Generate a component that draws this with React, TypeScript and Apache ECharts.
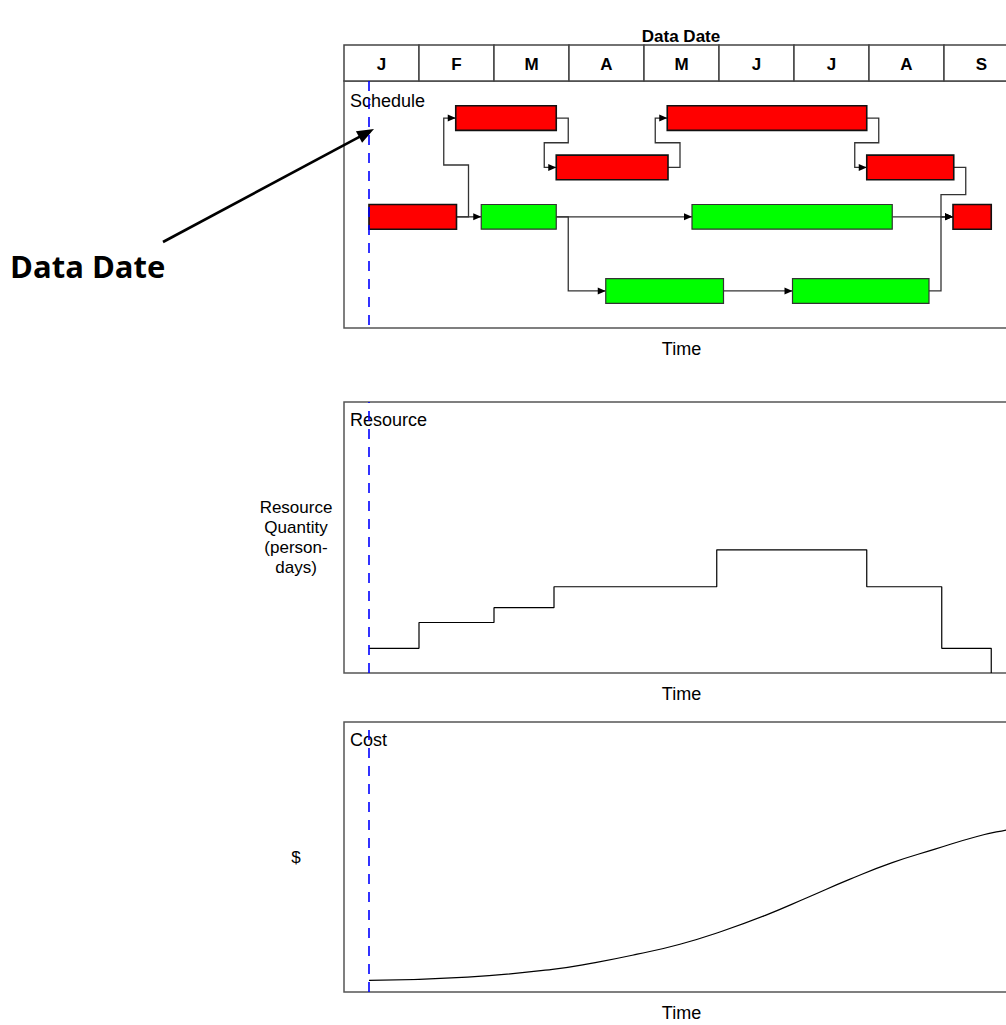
import React, { useEffect, useRef } from "react";
import * as echarts from "echarts";

// ---------- data ----------
const MONTHS = ["J", "F", "M", "A", "M", "J", "J", "A", "S"];
const DATA_DATE = 0.333; // months from start of J

// schedule tasks (time in months, row = lane centre)
const TASK_START = [0.333, 1.83, 1.49, 2.83, 4.31, 6.97, 4.64, 8.12, 3.49, 5.98];
const TASK_END = [1.5, 2.83, 2.83, 4.32, 6.97, 8.13, 7.31, 8.63, 5.06, 7.8];
const TASK_ROW = [5.5, 5.5, 1.5, 3.5, 1.5, 3.5, 5.5, 5.5, 8.5, 8.5];
const TASK_STATUS = [0, 1, 0, 0, 0, 0, 1, 0, 1, 1]; // 0 = red, 1 = green

// dependencies (finish-to-start)
const LINK_FROM = [0, 0, 1, 1, 2, 3, 4, 5, 6, 8, 9];
const LINK_TO = [1, 2, 6, 8, 3, 4, 5, 7, 7, 9, 7];
const LINK_KIND = ["straight", "s", "straight", "lout", "s", "s", "s", "s", "straight", "straight", "lin"];
const LINK_JOG = [0, 3.4, 0, 0, 2.5, 2.5, 2.5, 4.6, 0, 0, 0];

// resource histogram (step)
const RES_T = [0.333, 1.0, 2.0, 2.8, 4.97, 6.97, 7.97, 8.63];
const RES_V = [1, 2.05, 2.65, 3.5, 5, 3.5, 1, 0];

// cumulative cost curve
const COST_T = [0.333, 1.645, 2.78, 3.35, 3.91, 4.48, 5.04, 5.61, 6.18, 6.74, 7.31, 7.88, 8.44, 8.83, 9.0];
const COST_V = [0.43, 0.55, 0.84, 1.09, 1.4, 1.77, 2.25, 2.83, 3.5, 4.17, 4.79, 5.29, 5.76, 6.0, 6.08];

const FONT = "'Liberation Sans', Arial, sans-serif";
const JOG_OFFSET = 0.16;

function linkPoints(i: number): number[][] {
  const a = LINK_FROM[i];
  const b = LINK_TO[i];
  const ax = TASK_END[a];
  const ay = TASK_ROW[a];
  const bx = TASK_START[b];
  const by = TASK_ROW[b];
  const d = JOG_OFFSET;
  switch (LINK_KIND[i]) {
    case "lout":
      return [[ax, ay], [ax + d, ay], [ax + d, by], [bx, by]];
    case "lin":
      return [[ax, ay], [bx - d, ay], [bx - d, by], [bx, by]];
    case "s":
      return [[ax, ay], [ax + d, ay], [ax + d, LINK_JOG[i]], [bx - d, LINK_JOG[i]], [bx - d, by], [bx, by]];
    default:
      return [[ax, ay], [bx, by]];
  }
}

export default function App() {
  const ref = useRef<HTMLDivElement>(null);

  useEffect(() => {
    if (!ref.current) return;
    const chart = echarts.init(ref.current, null, { renderer: "svg" });

    const timeAxis = (gridIndex: number) => ({
      type: "value",
      gridIndex,
      min: 0,
      max: 9,
      axisLine: { show: false },
      axisTick: { show: false },
      axisLabel: { show: false },
      splitLine: { show: false },
      name: "Time",
      nameLocation: "middle",
      nameGap: 12,
      nameTextStyle: { fontSize: 18, color: "#000", fontFamily: FONT, verticalAlign: "top" },
    });

    const blueLine = {
      silent: true,
      symbol: ["none", "none"],
      label: { show: false },
      lineStyle: { color: "#0000ff", type: [10, 8], width: 1.6 },
      data: [{ xAxis: DATA_DATE }],
    };

    // arrow annotation
    const arrowStart = [163, 242];
    const arrowTip = [374, 129];
    const dx = arrowTip[0] - arrowStart[0];
    const dy = arrowTip[1] - arrowStart[1];
    const len = Math.sqrt(dx * dx + dy * dy);
    const ux = dx / len;
    const uy = dy / len;
    const headL = 17;
    const headW = 6.5;
    const bxp = arrowTip[0] - ux * headL;
    const byp = arrowTip[1] - uy * headL;

    const option: any = {
      animation: false,
      backgroundColor: "#fff",
      grid: [
        { left: 344, top: 45, width: 675, height: 36, show: false },
        { left: 344, top: 81, width: 675, height: 247, show: true, borderColor: "#555", borderWidth: 1.5 },
        { left: 344, top: 402, width: 675, height: 271, show: true, borderColor: "#555", borderWidth: 1.5 },
        { left: 344, top: 722, width: 675, height: 270, show: true, borderColor: "#555", borderWidth: 1.5 },
      ],
      xAxis: [
        { type: "value", gridIndex: 0, min: 0, max: 9, show: false },
        timeAxis(1),
        timeAxis(2),
        timeAxis(3),
      ],
      yAxis: [
        { type: "value", gridIndex: 0, min: 0, max: 1, show: false },
        { type: "value", gridIndex: 1, min: 0, max: 10, inverse: true, show: false },
        {
          type: "value",
          gridIndex: 2,
          min: 0,
          max: 11,
          axisLine: { show: false },
          axisTick: { show: false },
          axisLabel: { show: false },
          splitLine: { show: false },
          name: "Resource\nQuantity\n(person-\ndays)",
          nameLocation: "middle",
          nameRotate: 0,
          nameGap: 48,
          nameTextStyle: { fontSize: 17, color: "#000", fontFamily: FONT, align: "center", verticalAlign: "middle", lineHeight: 20 },
        },
        {
          type: "value",
          gridIndex: 3,
          min: 0,
          max: 10,
          axisLine: { show: false },
          axisTick: { show: false },
          axisLabel: { show: false },
          splitLine: { show: false },
          name: "$",
          nameLocation: "middle",
          nameRotate: 0,
          nameGap: 48,
          nameTextStyle: { fontSize: 17, color: "#000", fontFamily: FONT, align: "center", verticalAlign: "middle" },
        },
      ],
      series: [
        {
          type: "custom",
          name: "months",
          xAxisIndex: 0,
          yAxisIndex: 0,
          clip: false,
          data: MONTHS.map((_, i) => [i + 0.5, 0.5]),
          renderItem: (params: any, api: any) => {
            const i = params.dataIndex;
            const p0 = api.coord([i, 1]);
            const p1 = api.coord([i + 1, 0]);
            return {
              type: "group",
              children: [
                {
                  type: "rect",
                  shape: { x: p0[0], y: p0[1], width: p1[0] - p0[0], height: p1[1] - p0[1] },
                  style: { fill: "#fff", stroke: "#444", lineWidth: 1.5 },
                },
                {
                  type: "text",
                  x: (p0[0] + p1[0]) / 2,
                  y: (p0[1] + p1[1]) / 2 + 1,
                  style: {
                    text: MONTHS[i],
                    fill: "#000",
                    fontSize: 17,
                    fontWeight: "bold",
                    fontFamily: FONT,
                    align: "center",
                    verticalAlign: "middle",
                  },
                },
              ],
            };
          },
        },
        {
          type: "custom",
          name: "links",
          xAxisIndex: 1,
          yAxisIndex: 1,
          clip: false,
          data: LINK_FROM.map((f) => [TASK_END[f], TASK_ROW[f]]),
          renderItem: (params: any, api: any) => {
            const pts = linkPoints(params.dataIndex).map((p) => api.coord(p));
            const n = pts.length;
            const tip = pts[n - 1];
            const prev = pts[n - 2];
            const vx = tip[0] - prev[0];
            const vy = tip[1] - prev[1];
            const l = Math.sqrt(vx * vx + vy * vy) || 1;
            const ex = vx / l;
            const ey = vy / l;
            const hl = 8;
            const hw = 3.5;
            const bx = tip[0] - ex * hl;
            const by = tip[1] - ey * hl;
            return {
              type: "group",
              children: [
                {
                  type: "polyline",
                  shape: { points: pts },
                  style: { stroke: "#333", lineWidth: 1.3, fill: null },
                },
                {
                  type: "polygon",
                  shape: {
                    points: [
                      tip,
                      [bx - ey * hw, by + ex * hw],
                      [bx + ey * hw, by - ex * hw],
                    ],
                  },
                  style: { fill: "#000" },
                },
              ],
            };
          },
        },
        {
          type: "custom",
          name: "tasks",
          xAxisIndex: 1,
          yAxisIndex: 1,
          clip: false,
          data: TASK_START.map((s, i) => [s, TASK_END[i], TASK_ROW[i], TASK_STATUS[i]]),
          encode: { x: [0, 1], y: 2 },
          renderItem: (params: any, api: any) => {
            const s = api.coord([api.value(0), api.value(2) - 0.5]);
            const e = api.coord([api.value(1), api.value(2) + 0.5]);
            const red = api.value(3) === 0;
            return {
              type: "rect",
              shape: { x: s[0], y: s[1], width: e[0] - s[0], height: e[1] - s[1] },
              style: {
                fill: red ? "#ff0000" : "#00ff00",
                stroke: red ? "#111" : "#333",
                lineWidth: red ? 1.6 : 1.2,
              },
            };
          },
          markLine: blueLine,
        },
        {
          type: "line",
          name: "resource",
          xAxisIndex: 2,
          yAxisIndex: 2,
          step: "end",
          symbol: "none",
          clip: false,
          lineStyle: { color: "#000", width: 1.2 },
          data: RES_T.map((t, i) => [t, RES_V[i]]),
          markLine: blueLine,
        },
        {
          type: "line",
          name: "cost",
          xAxisIndex: 3,
          yAxisIndex: 3,
          smooth: true,
          symbol: "none",
          lineStyle: { color: "#000", width: 1.2 },
          data: COST_T.map((t, i) => [t, COST_V[i]]),
          markLine: blueLine,
        },
      ],
      graphic: [
        {
          type: "text",
          x: 681,
          y: 36,
          style: { text: "Data Date", fontSize: 17, fontWeight: "bold", fontFamily: FONT, fill: "#000", align: "center", verticalAlign: "middle" },
        },
        {
          type: "text",
          x: 350,
          y: 101,
          style: { text: "Schedule", fontSize: 18, fontFamily: FONT, fill: "#000", align: "left", verticalAlign: "middle" },
        },
        {
          type: "text",
          x: 350,
          y: 420,
          style: { text: "Resource", fontSize: 18, fontFamily: FONT, fill: "#000", align: "left", verticalAlign: "middle" },
        },
        {
          type: "text",
          x: 350,
          y: 740,
          style: { text: "Cost", fontSize: 18, fontFamily: FONT, fill: "#000", align: "left", verticalAlign: "middle" },
        },
        {
          type: "text",
          x: 10,
          y: 266,
          style: { text: "Data Date", fontSize: 31, fontWeight: "bold", fontFamily: "'Open Sans', sans-serif", fill: "#000", align: "left", verticalAlign: "middle" },
        },
        {
          type: "line",
          shape: { x1: arrowStart[0], y1: arrowStart[1], x2: bxp + ux * 2, y2: byp + uy * 2 },
          style: { stroke: "#000", lineWidth: 2.6 },
        },
        {
          type: "polygon",
          shape: {
            points: [
              arrowTip,
              [bxp - uy * headW, byp + ux * headW],
              [bxp + uy * headW, byp - ux * headW],
            ],
          },
          style: { fill: "#000" },
        },
      ],
    };

    chart.setOption(option);
    return () => chart.dispose();
  }, []);

  return (
    <div style={{ position: "absolute", left: 0, top: 0, width: 1006, height: 1025, overflow: "hidden", background: "#fff" }}>
      <div ref={ref} style={{ width: 1040, height: 1025 }} />
    </div>
  );
}
